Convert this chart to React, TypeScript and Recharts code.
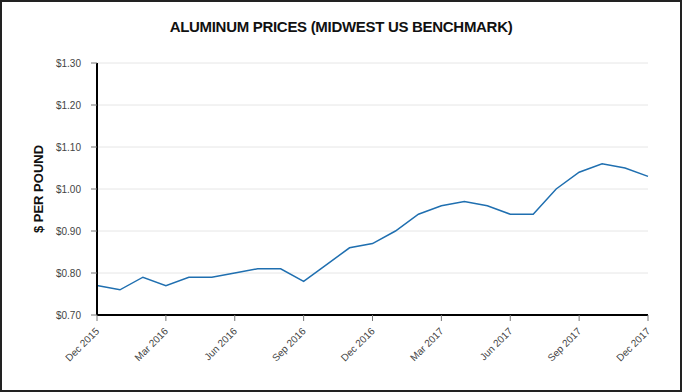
import { LineChart, Line, XAxis, YAxis, CartesianGrid } from 'recharts'

const MONTHS = [
  'Dec 2015', 'Jan 2016', 'Feb 2016', 'Mar 2016', 'Apr 2016', 'May 2016', 'Jun 2016',
  'Jul 2016', 'Aug 2016', 'Sep 2016', 'Oct 2016', 'Nov 2016', 'Dec 2016',
  'Jan 2017', 'Feb 2017', 'Mar 2017', 'Apr 2017', 'May 2017', 'Jun 2017',
  'Jul 2017', 'Aug 2017', 'Sep 2017', 'Oct 2017', 'Nov 2017', 'Dec 2017',
]

const PRICES = [
  0.77, 0.76, 0.79, 0.77, 0.79, 0.79, 0.8, 0.81, 0.81, 0.78, 0.82, 0.86, 0.87,
  0.9, 0.94, 0.96, 0.97, 0.96, 0.94, 0.94, 1.0, 1.04, 1.06, 1.05, 1.03,
]

const Y_TICKS = [0.7, 0.8, 0.9, 1.0, 1.1, 1.2, 1.3]

const data = MONTHS.map((m, i) => ({ month: m, price: PRICES[i] }))

function RotatedTick({ x, y, payload }: any) {
  return (
    <g transform={`translate(${x},${y + 6})`}>
      <text
        x={0}
        y={0}
        dy={4}
        textAnchor="end"
        transform="rotate(-45)"
        fontSize={10}
        fill="#444"
        fontFamily="'Liberation Sans', Arial, sans-serif"
      >
        {payload.value}
      </text>
    </g>
  )
}

export default function App() {
  return (
    <div
      style={{
        position: 'fixed',
        top: 0,
        left: 0,
        width: 682,
        height: 392,
        boxSizing: 'border-box',
        border: '2px solid #222',
        background: '#fff',
        fontFamily: "'Liberation Sans', Arial, sans-serif",
      }}
    >
      <div
        style={{
          position: 'absolute',
          top: 16,
          left: 0,
          width: '100%',
          textAlign: 'center',
          fontSize: 15,
          fontWeight: 'bold',
          color: '#111',
          letterSpacing: -0.3,
        }}
      >
        ALUMINUM PRICES (MIDWEST US BENCHMARK)
      </div>
      <div style={{ position: 'absolute', top: -2, left: -2 }}>
        <LineChart
          width={682}
          height={392}
          data={data}
          margin={{ top: 63, right: 34, bottom: 17, left: 27 }}
        >
          <CartesianGrid horizontal vertical={false} stroke="#e6e6e6" />
          <XAxis
            dataKey="month"
            interval={2}
            height={60}
            tick={<RotatedTick />}
            tickSize={6}
            axisLine={{ stroke: '#000', strokeWidth: 2 }}
            tickLine={{ stroke: '#777' }}
          />
          <YAxis
            domain={[0.7, 1.3]}
            ticks={Y_TICKS}
            width={70}
            tickSize={6}
            tickMargin={10}
            tickFormatter={(v: number) => `$${v.toFixed(2)}`}
            tick={{ fontSize: 10, fill: '#444' }}
            axisLine={{ stroke: '#000', strokeWidth: 2 }}
            tickLine={{ stroke: '#777' }}
            label={{
              value: '$ PER POUND',
              angle: -90,
              position: 'insideLeft',
              offset: 11,
              style: { fontSize: 13, fontWeight: 'bold', fill: '#111', textAnchor: 'middle' },
            }}
          />
          <Line
            type="linear"
            dataKey="price"
            stroke="#1f6fb0"
            strokeWidth={1.5}
            dot={false}
            isAnimationActive={false}
          />
        </LineChart>
      </div>
    </div>
  )
}
